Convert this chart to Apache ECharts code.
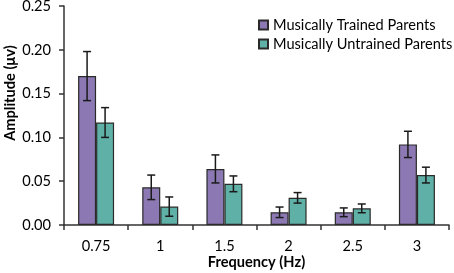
<!DOCTYPE html>
<html>
<head>
<meta charset="utf-8">
<script src="https://cdn.jsdelivr.net/npm/echarts@6/dist/echarts.min.js"></script>
<style>html,body{margin:0;padding:0;background:#fff}#c{width:454px;height:273px}</style>
</head>
<body>
<div id="c"></div>
<script>
var categories = ['0.75', '1', '1.5', '2', '2.5', '3'];
var trained = [0.170, 0.043, 0.064, 0.0145, 0.0145, 0.092];
var trainedErr = [0.028, 0.014, 0.016, 0.006, 0.005, 0.015];
var untrained = [0.117, 0.021, 0.047, 0.031, 0.019, 0.057];
var untrainedErr = [0.017, 0.011, 0.009, 0.006, 0.005, 0.009];
var yTicks = [0, 0.05, 0.10, 0.15, 0.20, 0.25];

var FONT = 'Lato';
var FS = 14.6;
var chart = echarts.init(document.getElementById('c'));

function errSeries(vals, errs, offset) {
  return {
    type: 'custom',
    silent: true,
    z: 10,
    data: vals.map(function (v, i) { return [i, v - errs[i], v + errs[i]]; }),
    renderItem: function (params, api) {
      var lo = api.coord([api.value(0), api.value(1)]);
      var hi = api.coord([api.value(0), api.value(2)]);
      var x = lo[0] + offset;
      var hw = 4;
      var st = { stroke: '#1a1a1a', lineWidth: 1.5 };
      return {
        type: 'group',
        children: [
          { type: 'line', shape: { x1: x, y1: lo[1], x2: x, y2: hi[1] }, style: st },
          { type: 'line', shape: { x1: x - hw, y1: lo[1], x2: x + hw, y2: lo[1] }, style: st },
          { type: 'line', shape: { x1: x - hw, y1: hi[1], x2: x + hw, y2: hi[1] }, style: st }
        ]
      };
    }
  };
}

chart.setOption({
  animation: false,
  textStyle: { fontFamily: FONT },
  grid: { left: 64, right: 5, top: 6, bottom: 48, containLabel: false, outerBoundsMode: 'none' },
  legend: {
    orient: 'vertical',
    left: 258,
    top: 17.5,
    padding: 0,
    itemWidth: 9,
    itemHeight: 9,
    itemGap: 4,
    icon: 'rect',
    data: ['Musically Trained Parents', 'Musically Untrained Parents'],
    textStyle: { fontFamily: FONT, fontSize: FS, color: '#000' }
  },
  graphic: [{
    type: 'text',
    x: 10,
    y: 93,
    rotation: Math.PI / 2,
    style: {
      text: 'Amplitude (\u03bcv)',
      font: 'bold ' + FS + 'px ' + FONT,
      fill: '#000',
      align: 'center',
      verticalAlign: 'middle'
    }
  }],
  xAxis: {
    type: 'category',
    data: categories,
    name: 'Frequency (Hz)',
    nameLocation: 'middle',
    nameGap: 30,
    nameMoveOverlap: false,
    nameTextStyle: { fontFamily: FONT, fontSize: FS, fontWeight: 'bold', color: '#000' },
    axisLine: { lineStyle: { color: '#333', width: 1.5 } },
    axisTick: { show: true, length: 5, inside: false, lineStyle: { color: '#333', width: 1.5 } },
    axisLabel: { fontFamily: FONT, fontSize: FS, color: '#000', margin: 14 }
  },
  yAxis: {
    type: 'value',
    min: 0,
    max: 0.25,
    interval: 0.05,
    splitLine: { show: false },
    axisLine: { show: true, lineStyle: { color: '#333', width: 1.5 } },
    axisTick: { show: true, length: 5, inside: false, lineStyle: { color: '#333', width: 1.5 } },
    axisLabel: {
      fontFamily: FONT, fontSize: FS, color: '#000', margin: 13,
      formatter: function (v) { return v.toFixed(2); }
    }
  },
  series: [
    {
      name: 'Musically Trained Parents',
      type: 'bar',
      data: trained,
      barWidth: 18,
      barGap: '0%',
      itemStyle: { color: '#8C79B3', borderColor: '#2a2a2a', borderWidth: 1.2 }
    },
    {
      name: 'Musically Untrained Parents',
      type: 'bar',
      data: untrained,
      barWidth: 18,
      barGap: '0%',
      itemStyle: { color: '#5FB0A7', borderColor: '#2a2a2a', borderWidth: 1.2 }
    },
    errSeries(trained, trainedErr, -9),
    errSeries(untrained, untrainedErr, 9)
  ]
});
</script>
</body>
</html>
